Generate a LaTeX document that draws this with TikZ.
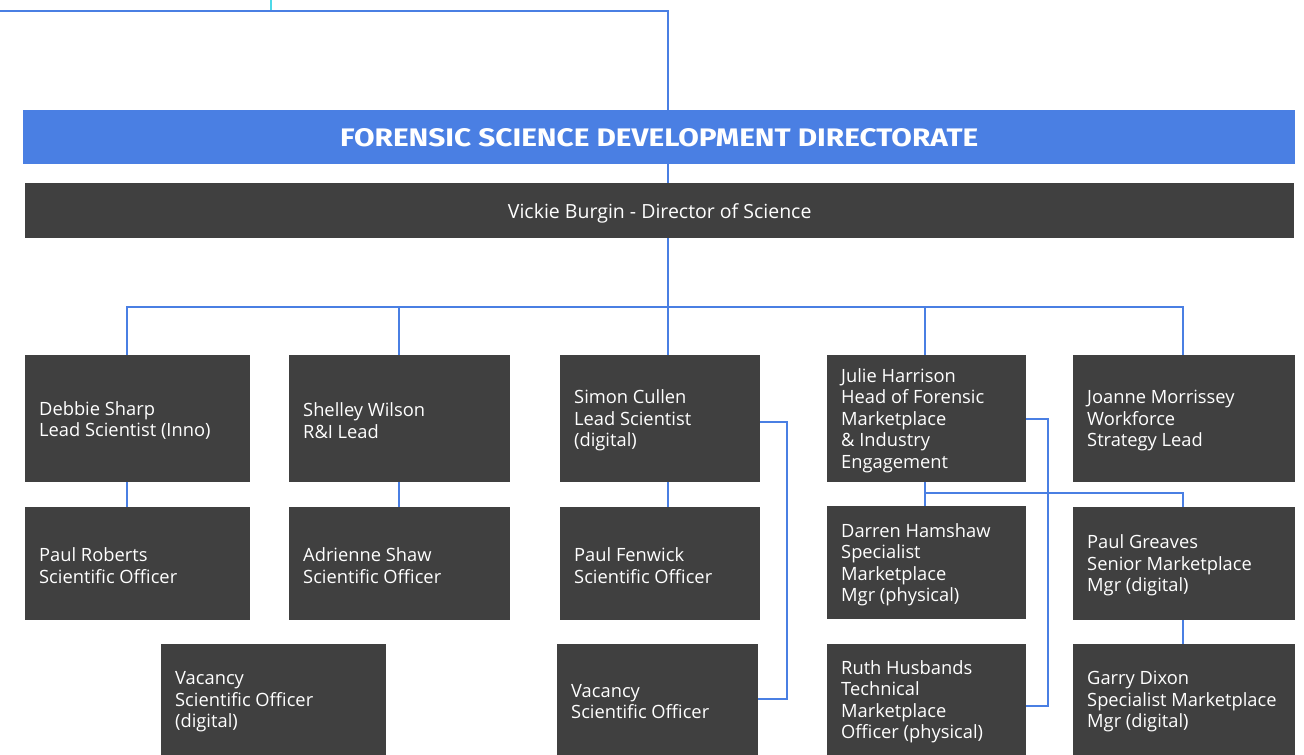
\documentclass[tikz,border=0pt]{standalone}
\usepackage{graphicx}
\usepackage{fontspec}
\setmainfont{Open Sans}
\newfontfamily\titlefont{Fira Sans}
\definecolor{lineblue}{HTML}{4A7FE3}
\definecolor{headblue}{HTML}{4A7FE3}
\definecolor{boxgray}{HTML}{404040}
\definecolor{cyanline}{HTML}{4DD9E8}
\newcommand\orgbox[6]{%
  \node[box, minimum width=#4pt, minimum height=#5pt] (#1) at (#2,#3) {};
  \node[lbl] (#1-t) at ([xshift=14pt,yshift=-2pt]#1.west) {#6};}
\begin{document}
\begin{tikzpicture}[x=1pt,y=-1pt,
  box/.style={fill=boxgray, draw=none, anchor=north west, inner sep=0pt},
  lbl/.style={anchor=west, text=white, font=\fontsize{18.3}{21.5}\selectfont, align=left, inner sep=0pt},
  conn/.style={draw=lineblue, line width=2pt},
  cyanconn/.style={draw=cyanline, line width=2pt}]
\useasboundingbox (0,0) rectangle (1304,755);
% header bars
\node[box, fill=headblue, minimum width=1272pt, minimum height=54pt] (header) at (23,110) {};
\node[text=white, inner sep=0pt] (title) at ([yshift=-1pt]header.center) {\resizebox{638pt}{18pt}{\titlefont\bfseries FORENSIC SCIENCE DEVELOPMENT DIRECTORATE}};
\node[box, minimum width=1269pt, minimum height=55pt] (director) at (25,183) {};
\node[text=white, inner sep=0pt, font=\fontsize{19.5}{22}\selectfont] (director-t) at ([yshift=-3pt]director.center) {Vickie Burgin - Director of Science};
% coordinates
\coordinate (cyT) at (271,0);
\coordinate (topL) at (0,11);
\coordinate (topC) at (668,11);
\coordinate (b1) at (127,307);
\coordinate (b2) at (399,307);
\coordinate (b3) at (668,307);
\coordinate (b4) at (925,307);
\coordinate (b5) at (1183,307);
\coordinate (jb) at (925,493);
\coordinate (jr) at (1048,419);
\coordinate (jr2) at (1048,706);
\coordinate (sr) at (787,422);
\coordinate (sr2) at (787,699);
% boxes
\orgbox{debbie}{25}{355}{225}{127}{Debbie Sharp\\Lead Scientist (Inno)}
\orgbox{shelley}{289}{355}{221}{127}{Shelley Wilson\\R\&I Lead}
\orgbox{simon}{560}{355}{200}{127}{Simon Cullen\\Lead Scientist\\(digital)}
\orgbox{julie}{827}{355}{199}{127}{Julie Harrison\\Head of Forensic\\Marketplace\\\& Industry\\Engagement}
\orgbox{joanne}{1073}{355}{222}{127}{Joanne Morrissey\\Workforce\\Strategy Lead}
\orgbox{paulr}{25}{507}{225}{113}{Paul Roberts\\Scientific Officer}
\orgbox{adrienne}{289}{507}{221}{113}{Adrienne Shaw\\Scientific Officer}
\orgbox{fenwick}{560}{507}{200}{113}{Paul Fenwick\\Scientific Officer}
\orgbox{darren}{827}{506}{199}{113}{Darren Hamshaw\\Specialist\\Marketplace\\Mgr (physical)}
\orgbox{greaves}{1073}{507}{222}{113}{Paul Greaves\\Senior Marketplace\\Mgr (digital)}
\orgbox{vacd}{161}{644}{225}{111}{Vacancy\\Scientific Officer\\(digital)}
\orgbox{vacso}{557}{644}{201}{111}{Vacancy\\Scientific Officer}
\orgbox{ruth}{827}{644}{199}{111}{Ruth Husbands\\Technical\\Marketplace\\Officer (physical)}
\orgbox{garry}{1073}{644}{222}{111}{Garry Dixon\\Specialist Marketplace\\Mgr (digital)}
% connectors
\draw[cyanconn] (cyT) -- (cyT |- topL);
\draw[conn] (topL) -- (topC) -- (topC |- header.north);
\draw[conn] (topC |- header.south) -- (topC |- director.north);
\draw[conn] (topC |- director.south) -- (topC |- simon.north);
\draw[conn] (b1 |- debbie.north) -- (b1) -- (b5) -- (b5 |- joanne.north);
\draw[conn] (b2) -- (b2 |- shelley.north);
\draw[conn] (b4) -- (b4 |- julie.north);
\draw[conn] (b1 |- debbie.south) -- (b1 |- paulr.north);
\draw[conn] (b2 |- shelley.south) -- (b2 |- adrienne.north);
\draw[conn] (b3 |- simon.south) -- (b3 |- fenwick.north);
\draw[conn] (b4 |- julie.south) -- (b4 |- darren.north);
\draw[conn] (jb) -- (jb -| b5) -- (b5 |- greaves.north);
\draw[conn] (jr -| julie.east) -- (jr) -- (jr2) -- (jr2 -| ruth.east);
\draw[conn] (sr -| simon.east) -- (sr) -- (sr2) -- (sr2 -| vacso.east);
\draw[conn] (b5 |- greaves.south) -- (b5 |- garry.north);
\end{tikzpicture}
\end{document}
